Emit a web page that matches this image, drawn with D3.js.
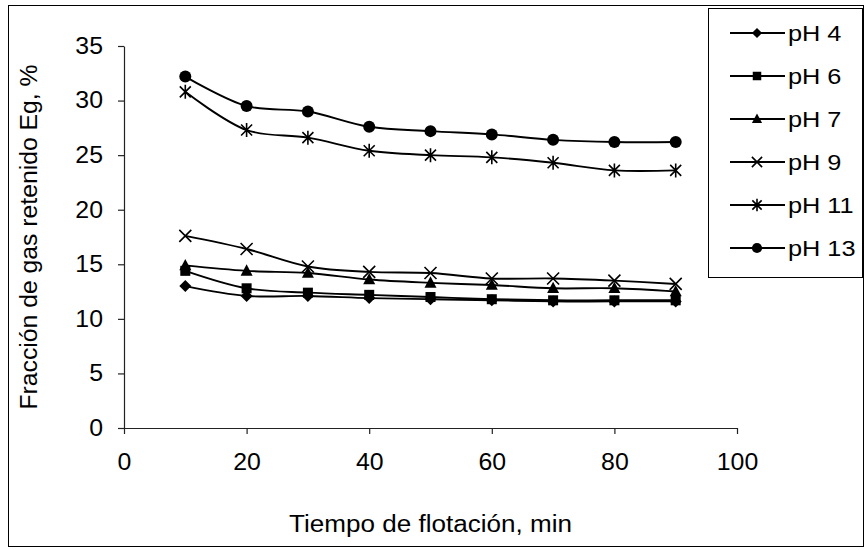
<!DOCTYPE html>
<html>
<head>
<meta charset="utf-8">
<script src="https://cdn.jsdelivr.net/npm/d3@7"></script>
<style>
  html, body { margin: 0; padding: 0; background: #fff; }
  svg { display: block; font-family: "Liberation Sans", Arial, sans-serif; }
</style>
</head>
<body>
<svg id="chart" width="865" height="550"></svg>
<script>
// Tiempo de flotación (min)
const tiempos = [10, 20, 30, 40, 50, 60, 70, 80, 90];

// Fracción de gas retenido Eg (%) por pH
const ph4  = [13.0, 12.1, 12.1, 11.9, 11.8, 11.7, 11.6, 11.6, 11.6];
const ph6  = [14.4, 12.8, 12.4, 12.2, 12.0, 11.8, 11.7, 11.7, 11.7];
const ph7  = [14.9, 14.4, 14.2, 13.6, 13.3, 13.1, 12.8, 12.8, 12.5];
const ph9  = [17.6, 16.4, 14.8, 14.3, 14.2, 13.7, 13.7, 13.5, 13.2];
const ph11 = [30.8, 27.3, 26.6, 25.4, 25.0, 24.8, 24.3, 23.6, 23.6];
const ph13 = [32.2, 29.5, 29.0, 27.6, 27.2, 26.9, 26.4, 26.2, 26.2];

const seriesNames = ["pH 4", "pH 6", "pH 7", "pH 9", "pH 11", "pH 13"];
const seriesValues = [ph4, ph6, ph7, ph9, ph11, ph13];
const seriesMarkers = ["diamond", "square", "triangle", "x", "asterisk", "circle"];

const xTicks = [0, 20, 40, 60, 80, 100];
const yTicks = [0, 5, 10, 15, 20, 25, 30, 35];

const svg = d3.select("#chart");
const ink = "#000";
const fontSize = 23;

// widen a text element horizontally by a factor, keeping its anchor
function widen(sel, factor) {
  sel.each(function () {
    const w = this.getComputedTextLength();
    d3.select(this).attr("textLength", w * factor).attr("lengthAdjust", "spacingAndGlyphs");
  });
}

// outer frame
svg.append("rect")
  .attr("x", 8.5).attr("y", 5.5)
  .attr("width", 855).attr("height", 541)
  .attr("fill", "none").attr("stroke", "#000").attr("stroke-width", 1);

const x = d3.scaleLinear().domain([0, 100]).range([124, 737]);
const y = d3.scaleLinear().domain([0, 35]).range([428, 46]);

// axes
const xAxis = d3.axisBottom(x).tickValues(xTicks).tickSizeInner(6).tickSizeOuter(0).tickPadding(20);
const yAxis = d3.axisLeft(y).tickValues(yTicks).tickSizeInner(6).tickSizeOuter(0).tickPadding(15);

const gx = svg.append("g").attr("transform", `translate(0,${y(0)})`).call(xAxis);
const gy = svg.append("g").attr("transform", `translate(${x(0)},0)`).call(yAxis);

[gx, gy].forEach(g => {
  g.select(".domain").attr("stroke", "#222").attr("stroke-width", 1.2);
  g.selectAll(".tick line").attr("stroke", "#222").attr("stroke-width", 1.2);
  g.selectAll(".tick text").attr("fill", ink).attr("font-size", fontSize)
    .attr("font-family", "'Liberation Sans', Arial, sans-serif");
  widen(g.selectAll(".tick text"), 1.08);
});

// axis titles
svg.append("text")
  .attr("x", x(50)).attr("y", 532)
  .attr("text-anchor", "middle")
  .attr("font-size", fontSize).attr("fill", ink)
  .attr("textLength", 283).attr("lengthAdjust", "spacingAndGlyphs")
  .text("Tiempo de flotación, min");

svg.append("text")
  .attr("transform", `translate(37,${y(17.5)}) rotate(-90)`)
  .attr("text-anchor", "middle")
  .attr("font-size", fontSize).attr("fill", ink)
  .attr("textLength", 345).attr("lengthAdjust", "spacingAndGlyphs")
  .text("Fracción de gas retenido Eg, %");

// marker shapes; k scales the glyph size
function drawMarker(g, type, cx, cy, k = 1) {
  if (type === "diamond") {
    const s = 6 * k;
    g.append("path").attr("d", `M${cx},${cy - s}L${cx + s},${cy}L${cx},${cy + s}L${cx - s},${cy}Z`).attr("fill", ink);
  } else if (type === "square") {
    const s = 5 * k;
    g.append("rect").attr("x", cx - s).attr("y", cy - s).attr("width", 2 * s).attr("height", 2 * s).attr("fill", ink);
  } else if (type === "triangle") {
    const s = 6 * k;
    g.append("path").attr("d", `M${cx},${cy - s - 0.5}L${cx + s},${cy + s * 0.8}L${cx - s},${cy + s * 0.8}Z`).attr("fill", ink);
  } else if (type === "x") {
    const s = 6 * k;
    g.append("path").attr("d", `M${cx - s},${cy - s}L${cx + s},${cy + s}M${cx - s},${cy + s}L${cx + s},${cy - s}`)
      .attr("stroke", ink).attr("stroke-width", 1.6).attr("fill", "none");
  } else if (type === "asterisk") {
    const s = 5.5 * k;
    g.append("path").attr("d", `M${cx - s},${cy - s}L${cx + s},${cy + s}M${cx - s},${cy + s}L${cx + s},${cy - s}M${cx},${cy - s - 1.5}L${cx},${cy + s + 1.5}`)
      .attr("stroke", ink).attr("stroke-width", 1.6).attr("fill", "none");
  } else if (type === "circle") {
    g.append("circle").attr("cx", cx).attr("cy", cy).attr("r", 6 * k).attr("fill", ink);
  }
}

// series lines (smoothed) and markers
const line = d3.line()
  .x((d, i) => x(tiempos[i]))
  .y(d => y(d))
  .curve(d3.curveCatmullRom.alpha(0.5));

seriesValues.forEach((vals, k) => {
  const g = svg.append("g");
  g.append("path")
    .attr("d", line(vals))
    .attr("fill", "none")
    .attr("stroke", ink)
    .attr("stroke-width", 1.9);
  vals.forEach((v, i) => drawMarker(g, seriesMarkers[k], x(tiempos[i]), y(v)));
});

// legend
const legend = svg.append("g");
legend.append("rect")
  .attr("x", 708.5).attr("y", 8.5)
  .attr("width", 154).attr("height", 269)
  .attr("fill", "#fff").attr("stroke", "#000").attr("stroke-width", 1);

const legendY = d3.scalePoint().domain(seriesNames).range([33, 248]);
seriesNames.forEach((name, k) => {
  const cy = legendY(name);
  legend.append("line")
    .attr("x1", 730).attr("x2", 785)
    .attr("y1", cy).attr("y2", cy)
    .attr("stroke", ink).attr("stroke-width", 1.8);
  drawMarker(legend, seriesMarkers[k], 757, cy, 0.85);
  const t = legend.append("text")
    .attr("x", 788).attr("y", cy).attr("dy", "0.36em")
    .attr("font-size", 22).attr("fill", ink)
    .text(name);
  widen(t, 1.15);
});
</script>
</body>
</html>
